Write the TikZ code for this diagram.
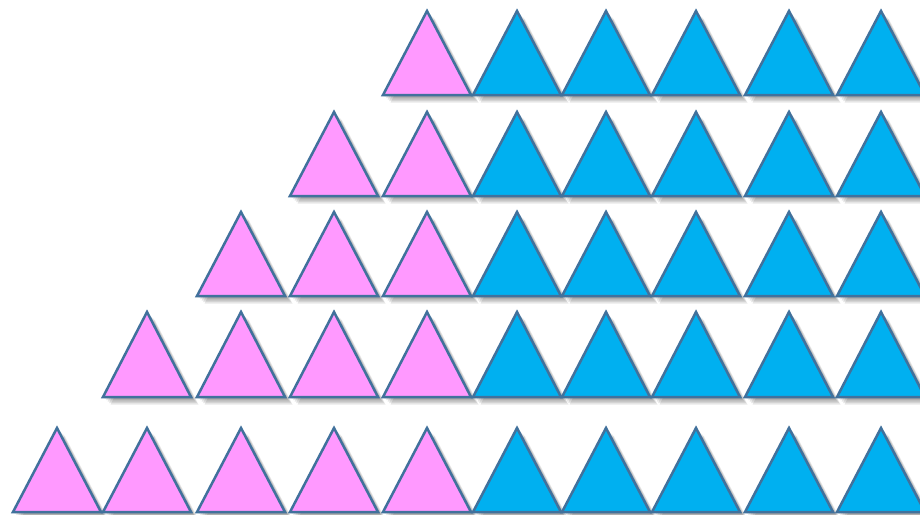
\documentclass[tikz,border=0pt]{standalone}
\usetikzlibrary{calc}
\definecolor{pinkfill}{HTML}{FF99FF}
\definecolor{bluefill}{HTML}{00B0F0}
\definecolor{edgecol}{HTML}{41719C}
\tikzset{
  triedge/.style={draw=edgecol, line width=2.5pt, line join=miter},
  trishadow/.style={fill=black, fill opacity=0.09, draw=none}
}
\newcommand{\mytri}[4]{% apex x, apex y, base y, colour
  \foreach \s in {1.5,3,4.5,6,7.5}{
    \fill[trishadow] (#1+\s,#2+\s) -- (#1+44+\s,#3+\s) -- (#1-44+\s,#3+\s) -- cycle;
  }
  \filldraw[triedge, fill=#4] (#1,#2) -- (#1+44,#3) -- (#1-44,#3) -- cycle;
}
\begin{document}
\begin{tikzpicture}[x=1pt,y=-1pt]
\useasboundingbox (0,0) rectangle (920,514);
\fill[white] (0,0) rectangle (920,514);
\def\colx{{57,147,241,334,427,517,606,696,789,881}}
% rows: apex y, base y, first pink column index
\foreach \ay/\by/\first in {11/95/4, 112/196/3, 212/296/2, 312/397/1, 428/512/0}{
  \foreach \i in {\first,...,9}{
    \pgfmathsetmacro{\cx}{\colx[\i]}
    \ifnum\i<5
      \mytri{\cx}{\ay}{\by}{pinkfill}
    \else
      \mytri{\cx}{\ay}{\by}{bluefill}
    \fi
  }
}
\end{tikzpicture}
\end{document}
